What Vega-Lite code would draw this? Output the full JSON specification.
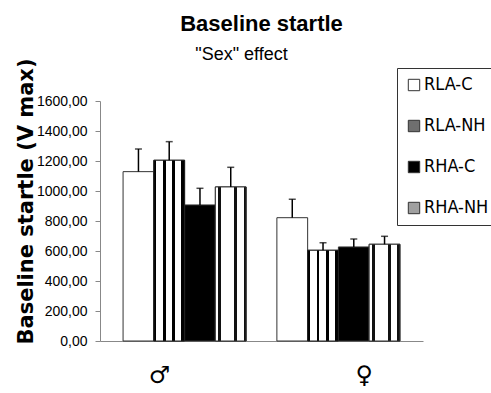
{
  "$schema": "https://vega.github.io/schema/vega-lite/v6.json",
  "autosize": {"type": "none"},
  "width": 323,
  "height": 240,
  "padding": {"left": 100, "top": 101, "right": 68, "bottom": 52},
  "background": "white",
  "title": {
    "text": "Baseline  startle",
    "subtitle": "\"Sex\" effect\u00a0\u00a0\u00a0\u00a0\u00a0\u00a0\u00a0\u00a0\u200b",
    "font": "Liberation Sans",
    "fontSize": 22,
    "fontWeight": "bold",
    "color": "black",
    "subtitleFont": "Liberation Sans",
    "subtitleFontSize": 18,
    "subtitleColor": "black",
    "subtitlePadding": 10,
    "anchor": "middle",
    "frame": "group",
    "offset": -7
  },
  "config": {
    "view": {"stroke": null},
    "axis": {"labelColor": "black", "titleColor": "black"},
    "axisY": {"labelOverlap": false}
  },
  "data": {
    "values": [
      {"sex": "♂", "group": "RLA-C", "mean": 1129, "upper": 1280},
      {"sex": "♂", "group": "RLA-NH", "mean": 1205, "upper": 1329},
      {"sex": "♂", "group": "RHA-C", "mean": 907, "upper": 1018},
      {"sex": "♂", "group": "RHA-NH", "mean": 1027, "upper": 1158},
      {"sex": "♀", "group": "RLA-C", "mean": 822, "upper": 945},
      {"sex": "♀", "group": "RLA-NH", "mean": 605, "upper": 655},
      {"sex": "♀", "group": "RHA-C", "mean": 627, "upper": 680},
      {"sex": "♀", "group": "RHA-NH", "mean": 645, "upper": 698}
    ]
  },
  "encoding": {
    "x": {
      "field": "sex",
      "type": "nominal",
      "sort": ["♂", "♀"],
      "scale": {"paddingInner": 0.2, "paddingOuter": 0.15},
      "axis": {
        "title": null,
        "labelAngle": 0,
        "labelFont": "DejaVu Sans",
        "labelFontSize": 24,
        "labelPadding": 22,
        "labelOffset": {"condition": {"test": "datum.value === '♂'", "value": -25}, "value": 26},
        "ticks": false,
        "domainColor": "#888888"
      }
    },
    "xOffset": {
      "field": "group",
      "type": "nominal",
      "sort": ["RLA-C", "RLA-NH", "RHA-C", "RHA-NH"],
      "scale": {"paddingInner": 0, "paddingOuter": 0}
    },
    "y": {
      "field": "mean",
      "type": "quantitative",
      "scale": {"domain": [0, 1600], "nice": false},
      "axis": {
        "values": [0, 200, 400, 600, 800, 1000, 1200, 1400, 1600],
        "labelExpr": "replace(format(datum.value, '.2f'), '.', ',')",
        "labelFont": "Liberation Sans",
        "labelFontSize": 14,
        "labelPadding": 8,
        "labelOverlap": false,
        "grid": false,
        "domainColor": "#888888",
        "tickColor": "#888888",
        "tickSize": 5,
        "title": "Baseline startle (V max)",
        "titleFont": "DejaVu Sans",
        "titleFontSize": 21,
        "titleFontWeight": "bold",
        "titleX": -68,
        "titleY": 100,
        "titleBaseline": "alphabetic",
        "titleAnchor": "middle"
      }
    }
  },
  "layer": [
    {
      "mark": {"type": "bar", "stroke": "#333333", "strokeWidth": 1},
      "encoding": {
        "fill": {
          "field": "group",
          "type": "nominal",
          "sort": ["RLA-C", "RLA-NH", "RHA-C", "RHA-NH"],
          "scale": {
            "domain": ["RLA-C", "RLA-NH", "RHA-C", "RHA-NH"],
            "range": ["white", "#6f6f6f", "black", "#a0a0a0"]
          },
          "legend": {
            "title": null,
            "orient": "none",
            "legendX": 297,
            "legendY": -33,
            "strokeColor": "#333333",
            "padding": 8,
            "rowPadding": 23,
            "symbolType": "square",
            "symbolSize": 130,
            "symbolStrokeColor": "#333333",
            "symbolStrokeWidth": 1,
            "labelFont": "DejaVu Sans Condensed, Liberation Sans",
            "labelFontSize": 18,
            "labelColor": "black",
            "labelOffset": 1,
            "labelLimit": 200
          }
        }
      }
    },
    {
      "transform": [{"filter": "datum.group === 'RLA-NH'"}],
      "mark": {
        "type": "bar",
        "stroke": "#222222",
        "strokeWidth": 1,
        "fill": {"gradient": "linear", "x1": 0, "y1": 0, "x2": 1, "y2": 0, "stops": [
          {"offset": 0, "color": "black"}, {"offset": 0.08, "color": "black"},
          {"offset": 0.08, "color": "white"}, {"offset": 0.3, "color": "white"},
          {"offset": 0.3, "color": "black"}, {"offset": 0.38, "color": "black"},
          {"offset": 0.38, "color": "white"}, {"offset": 0.6, "color": "white"},
          {"offset": 0.6, "color": "black"}, {"offset": 0.68, "color": "black"},
          {"offset": 0.68, "color": "white"}, {"offset": 0.88, "color": "white"},
          {"offset": 0.88, "color": "black"}, {"offset": 1, "color": "black"}
        ]}
      },
      "encoding": {}
    },
    {
      "transform": [{"filter": "datum.group === 'RHA-NH'"}],
      "mark": {
        "type": "bar",
        "stroke": "#333333",
        "strokeWidth": 1,
        "fill": {"gradient": "linear", "x1": 0, "y1": 0, "x2": 1, "y2": 0, "stops": [
          {"offset": 0, "color": "white"}, {"offset": 0.1, "color": "white"},
          {"offset": 0.1, "color": "#111111"}, {"offset": 0.18, "color": "#111111"},
          {"offset": 0.18, "color": "white"}, {"offset": 0.62, "color": "white"},
          {"offset": 0.62, "color": "#111111"}, {"offset": 0.7, "color": "#111111"},
          {"offset": 0.7, "color": "white"}, {"offset": 0.92, "color": "white"},
          {"offset": 0.92, "color": "#111111"}, {"offset": 1, "color": "#111111"}
        ]}
      },
      "encoding": {}
    },
    {
      "mark": {"type": "rule", "color": "black", "strokeWidth": 1.5},
      "encoding": {
        "y2": {"field": "upper"}
      }
    },
    {
      "mark": {"type": "tick", "color": "black", "thickness": 1.5, "size": 7},
      "encoding": {
        "y": {"field": "upper", "type": "quantitative"}
      }
    }
  ]
}
